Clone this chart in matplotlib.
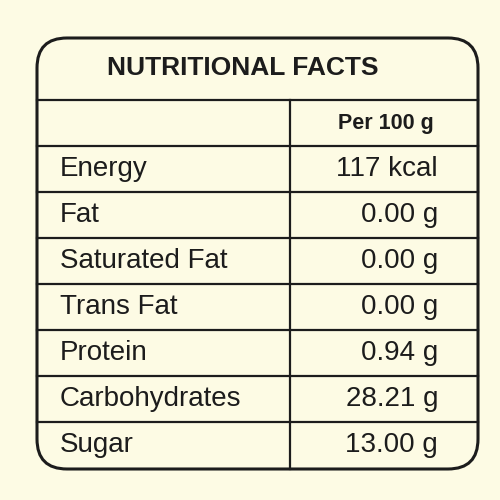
import matplotlib.pyplot as plt
from matplotlib.patches import FancyBboxPatch

title = "NUTRITIONAL FACTS"
column_header = "Per 100 g"
nutrients = ["Energy", "Fat", "Saturated Fat", "Trans Fat", "Protein", "Carbohydrates", "Sugar"]
amounts = ["117 kcal", "0.00 g", "0.00 g", "0.00 g", "0.94 g", "28.21 g", "13.00 g"]

fam = ["Liberation Sans", "DejaVu Sans"]
bg = "#fdfbe4"
ink = "#1c1c1c"

fig = plt.figure(figsize=(5, 5), dpi=100)
fig.patch.set_facecolor(bg)
ax = fig.add_axes([0, 0, 1, 1])
ax.set_xlim(0, 500)
ax.set_ylim(500, 0)
ax.axis("off")

box = FancyBboxPatch((37, 38), 441, 431, boxstyle="round,pad=0,rounding_size=30",
                     fc=bg, ec=ink, lw=2.2)
ax.add_patch(box)

ax.text(243, 68, title, ha="center", va="center", fontsize=19, fontweight="bold",
        family=fam, color=ink)

top = 100
row_h = 46
n = len(nutrients) + 1
for i in range(n):
    y = top + i * row_h
    ax.plot([37, 478], [y, y], color=ink, lw=1.6)
ax.plot([290, 290], [top, 469], color=ink, lw=1.6)

ax.text(386, top + row_h / 2, column_header, ha="center", va="center", fontsize=15.5,
        fontweight="bold", family=fam, color=ink)

for i, (name, amt) in enumerate(zip(nutrients, amounts)):
    yc = top + (i + 1) * row_h + row_h / 2
    ax.text(60, yc, name, ha="left", va="center", fontsize=20, family=fam, color=ink)
    ax.text(438, yc, amt, ha="right", va="center", fontsize=20, family=fam, color=ink)

fig.savefig("out.png", dpi=100, facecolor=bg)
